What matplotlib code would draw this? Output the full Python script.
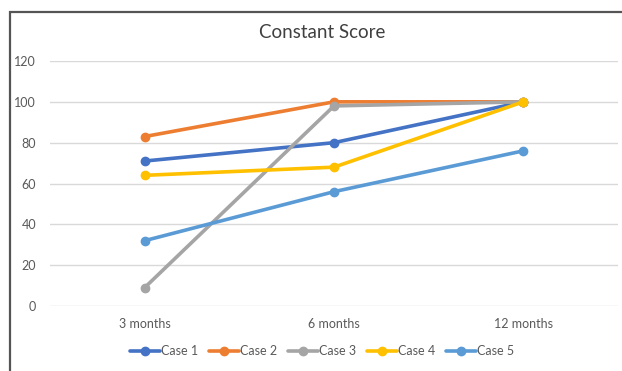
import matplotlib
matplotlib.use("Agg")
import matplotlib.pyplot as plt
from matplotlib.patches import Rectangle

plt.rcParams['font.family'] = ['Lato', 'DejaVu Sans']

timepoints = ['3 months', '6 months', '12 months']
case1 = [71, 80, 100]
case2 = [83, 100, 100]
case3 = [9, 98, 100]
case4 = [64, 68, 100]
case5 = [32, 56, 76]

series = [
    ('Case 1', case1, '#4472C4'),
    ('Case 2', case2, '#ED7D31'),
    ('Case 3', case3, '#A5A5A5'),
    ('Case 4', case4, '#FFC000'),
    ('Case 5', case5, '#5B9BD5'),
]

fig = plt.figure(figsize=(6.22, 3.71), dpi=100)
ax = fig.add_axes([50 / 622, 1 - 306 / 371, 568 / 622, 245 / 371])

x = range(len(timepoints))
for name, vals, col in series:
    ax.plot(x, vals, color=col, lw=2.6, marker='o', ms=6, label=name,
            solid_capstyle='round')

ax.set_xlim(-0.5, 2.5)
ax.set_ylim(0, 120)
ax.set_yticks(range(0, 121, 20))
ax.set_xticks(list(x))
ax.set_xticklabels(timepoints)
ax.grid(axis='y', color='#D9D9D9', lw=1)
ax.set_axisbelow(True)
for s in ax.spines.values():
    s.set_visible(False)
ax.tick_params(length=0, labelsize=9, colors='#595959')
ax.tick_params(axis='y', pad=10)
ax.tick_params(axis='x', pad=9)

fig.text(322 / 622, 1 - 32 / 371, 'Constant Score', ha='center', va='center',
         fontsize=13.5, color='#404040')

leg = fig.legend(loc='center', bbox_to_anchor=(322 / 622, 1 - 351 / 371), ncol=5,
                 frameon=False, fontsize=9, handlelength=2.4, handletextpad=0.05,
                 columnspacing=0.9, labelcolor='#595959')

# outer chart frame
fig.patches.append(Rectangle((10 / 622, -0.05), 1.2, 1 - 12 / 371 + 0.05,
                             transform=fig.transFigure, fill=False,
                             edgecolor='#555555', lw=1.6))

fig.savefig('out.png', dpi=100)
